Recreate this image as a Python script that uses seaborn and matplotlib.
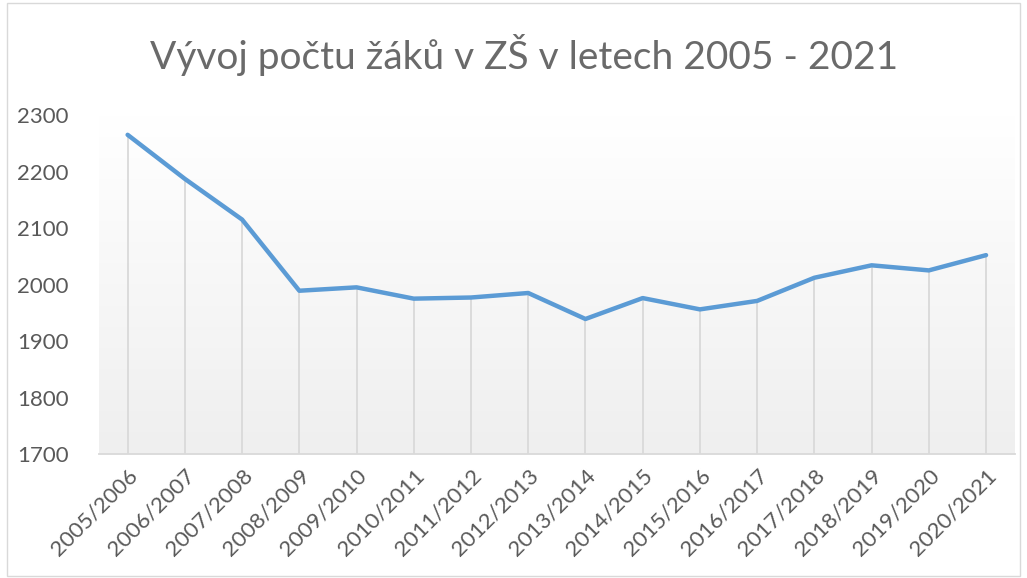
import numpy as np
import pandas as pd
import matplotlib
matplotlib.use("Agg")
import matplotlib.pyplot as plt
import seaborn as sns
from matplotlib.patches import Rectangle

years = ["2005/2006", "2006/2007", "2007/2008", "2008/2009", "2009/2010",
         "2010/2011", "2011/2012", "2012/2013", "2013/2014", "2014/2015",
         "2015/2016", "2016/2017", "2017/2018", "2018/2019", "2019/2020",
         "2020/2021"]
pupils = [2265, 2187, 2115, 1989, 1995, 1975, 1977, 1985, 1939, 1976,
          1956, 1971, 2012, 2034, 2025, 2052]
yticks = [1700, 1800, 1900, 2000, 2100, 2200, 2300]
title = "Vývoj počtu žáků v ZŠ v letech 2005 - 2021"

sns.set_theme(style="white")
plt.rcParams['font.family'] = ['Lato', 'DejaVu Sans']

df = pd.DataFrame({"idx": np.arange(len(years)), "year": years, "pupils": pupils})

fig = plt.figure(figsize=(10.27, 5.78), dpi=100)
ax = fig.add_axes([0.0964, 0.2145, 0.8916, 0.5865])

# gradient background of plot area (white top -> light gray bottom)
grad = np.linspace(0, 1, 256).reshape(-1, 1)
cmap = matplotlib.colors.LinearSegmentedColormap.from_list("g", ["#ffffff", "#efefef"])
ax.imshow(grad, aspect="auto", cmap=cmap, extent=[-0.5, 15.5, 1700, 2300],
          origin="upper", zorder=0)

ax.vlines(df["idx"], 1700, df["pupils"], color="#d9d9d9", lw=1.3, zorder=1)
sns.lineplot(data=df, x="idx", y="pupils", ax=ax, color="#5b9bd5", lw=3.2,
             zorder=3, solid_capstyle="round", solid_joinstyle="round")

ax.set_xlim(-0.5, 15.5)
ax.set_ylim(1700, 2300)
ax.set_yticks(yticks)
ax.set_yticklabels([str(t) for t in yticks])
ax.set_xticks(df["idx"])
ax.set_xticklabels(years, rotation=45, ha="right", rotation_mode="anchor")
ax.tick_params(axis="y", length=0, pad=22, labelsize=16, labelcolor="#595959")
ax.tick_params(axis="x", length=0, pad=8, labelsize=16, labelcolor="#595959")
ax.set_xlabel("")
ax.set_ylabel("")
for s in ["top", "right", "left"]:
    ax.spines[s].set_visible(False)
ax.spines["bottom"].set_color("#d9d9d9")
ax.spines["bottom"].set_linewidth(1.3)
ax.grid(False)

fig.text(0.51, 0.905, title, ha="center", va="center", fontsize=28,
         color="#6a6a6a", fontweight="normal")

fig.patches.append(Rectangle((0.007, 0.004), 0.986, 0.99, transform=fig.transFigure,
                             fill=False, edgecolor="#d9d9d9", lw=1))

fig.savefig("out.png", dpi=100, facecolor="white")
